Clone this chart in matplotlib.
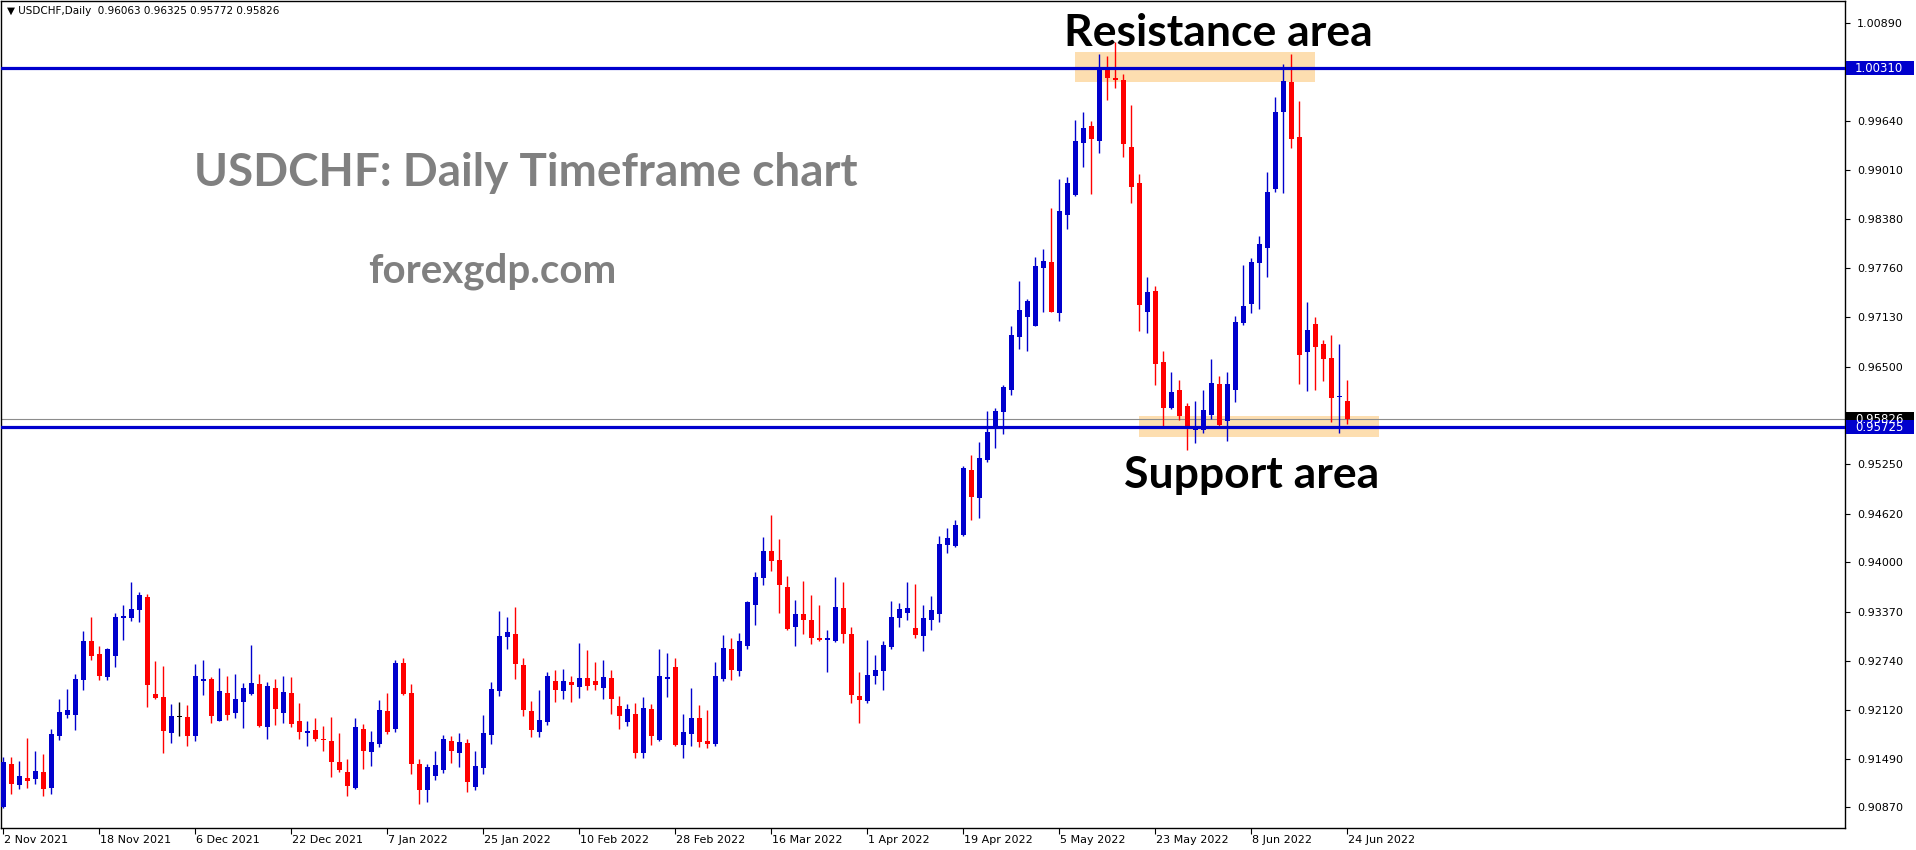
import numpy as np
import matplotlib
matplotlib.use("Agg")
import matplotlib.pyplot as plt
from matplotlib.patches import Rectangle
import matplotlib.transforms as mtransforms

# daily USDCHF candles, 2 Nov 2021 .. 24 Jun 2022
opens = [
    0.90880, 0.91425, 0.91161, 0.91242, 0.91237, 0.91323, 0.91123, 0.91787, 0.92050, 0.92055,
    0.92502, 0.92996, 0.92830, 0.92540, 0.92808, 0.93294, 0.93294, 0.93396, 0.93557, 0.92319,
    0.92280, 0.91825, 0.92025, 0.92025, 0.91787, 0.92489, 0.92510, 0.91978, 0.92332, 0.92080,
    0.92221, 0.92323, 0.92446, 0.91902, 0.92395, 0.92080, 0.92332, 0.91974, 0.91825, 0.91859,
    0.91744, 0.91718, 0.91450, 0.91327, 0.91123, 0.91872, 0.91582, 0.91684, 0.92102, 0.91876,
    0.92715, 0.92332, 0.91425, 0.91097, 0.91276, 0.91352, 0.91718, 0.91570, 0.91693, 0.91135,
    0.91378, 0.91800, 0.92361, 0.93051, 0.93085, 0.92689, 0.92102, 0.91838, 0.91965, 0.92485,
    0.92361, 0.92472, 0.92412, 0.92523, 0.92485, 0.92400, 0.92523, 0.92166, 0.91966, 0.92064,
    0.91570, 0.92128, 0.91736, 0.92515, 0.92664, 0.91672, 0.91812, 0.92013, 0.91719, 0.91685,
    0.92510, 0.92894, 0.92613, 0.92936, 0.93456, 0.93800, 0.94145, 0.94030, 0.93686, 0.93175,
    0.93341, 0.93264, 0.93034, 0.93013, 0.93000, 0.93418, 0.93085, 0.92294, 0.92234, 0.92553,
    0.92617, 0.92924, 0.93294, 0.93358, 0.93162, 0.93064, 0.93268, 0.93345, 0.94226, 0.94214,
    0.94350, 0.95180, 0.94826, 0.95312, 0.95708, 0.95925, 0.96206, 0.96883, 0.97138, 0.97023,
    0.97764, 0.97836, 0.97189, 0.98441, 0.98692, 0.99360, 0.99573, 0.99386, 1.00301, 1.00173,
    1.00161, 0.99305, 0.98845, 0.97202, 0.97466, 0.96559, 0.95976, 0.96202, 0.96001, 0.95695,
    0.95695, 0.95887, 0.96278, 0.95810, 0.96206, 0.97062, 0.97304, 0.97828, 0.98019, 0.98773,
    0.99756, 1.00135, 0.99433, 0.96691, 0.97045, 0.96789, 0.96610, 0.96106, 0.96063,
]
highs = [
    0.91510, 0.91514, 0.91463, 0.91757, 0.91591, 0.91552, 0.91872, 0.92255, 0.92383, 0.92574,
    0.93123, 0.93302, 0.92932, 0.92906, 0.93353, 0.93455, 0.93749, 0.93621, 0.93596, 0.92740,
    0.92676, 0.92191, 0.92217, 0.92178, 0.92702, 0.92753, 0.92536, 0.92651, 0.92549, 0.92574,
    0.92459, 0.92945, 0.92574, 0.92472, 0.92510, 0.92549, 0.92536, 0.92204, 0.91974, 0.92012,
    0.91910, 0.92025, 0.91821, 0.91489, 0.92012, 0.91936, 0.91846, 0.92242, 0.92332, 0.92753,
    0.92779, 0.92446, 0.91489, 0.91425, 0.91591, 0.91795, 0.91782, 0.91821, 0.91744, 0.91591,
    0.92051, 0.92472, 0.93379, 0.93302, 0.93430, 0.92779, 0.92229, 0.92370, 0.92600, 0.92625,
    0.92638, 0.92549, 0.92970, 0.92881, 0.92727, 0.92753, 0.92626, 0.92294, 0.92191, 0.92204,
    0.92281, 0.92191, 0.92894, 0.92843, 0.92779, 0.92068, 0.92396, 0.92179, 0.92119, 0.92728,
    0.93073, 0.93034, 0.93098, 0.93507, 0.93877, 0.94324, 0.94605, 0.94298, 0.93826, 0.93520,
    0.93762, 0.93584, 0.93456, 0.93136, 0.93813, 0.93749, 0.93175, 0.92600, 0.93004, 0.92817,
    0.92996, 0.93507, 0.93481, 0.93749, 0.93724, 0.93456, 0.93571, 0.94337, 0.94439, 0.94541,
    0.95231, 0.95371, 0.95537, 0.95933, 0.95972, 0.96265, 0.97019, 0.97594, 0.97364, 0.97900,
    0.98002, 0.98526, 0.98896, 0.98922, 0.99650, 0.99752, 0.99637, 1.00493, 1.00467, 1.00646,
    1.00237, 0.99841, 0.98960, 0.97645, 0.97530, 0.96700, 0.96431, 0.96329, 0.96036, 0.96061,
    0.96202, 0.96598, 0.96380, 0.96431, 0.97147, 0.97798, 0.97887, 0.98168, 0.98986, 0.99943,
    1.00365, 1.00493, 0.99892, 0.97325, 0.97134, 0.96840, 0.96904, 0.96789, 0.96325,
]
lows = [
    0.90860, 0.91046, 0.91106, 0.91123, 0.91174, 0.91020, 0.91046, 0.91736, 0.92016, 0.91863,
    0.92374, 0.92757, 0.92502, 0.92502, 0.92668, 0.93013, 0.93251, 0.93238, 0.92157, 0.92259,
    0.91570, 0.91697, 0.91787, 0.91659, 0.91723, 0.92306, 0.91953, 0.91978, 0.91991, 0.92016,
    0.91889, 0.92310, 0.91902, 0.91748, 0.91927, 0.91953, 0.91902, 0.91748, 0.91659, 0.91723,
    0.91595, 0.91263, 0.91327, 0.91020, 0.91110, 0.91365, 0.91404, 0.91646, 0.91812, 0.91838,
    0.92310, 0.91301, 0.90918, 0.90944, 0.91225, 0.91314, 0.91442, 0.91391, 0.91071, 0.91097,
    0.91301, 0.91684, 0.92297, 0.92898, 0.92515, 0.92042, 0.91774, 0.91774, 0.91927, 0.92221,
    0.92259, 0.92221, 0.92272, 0.92374, 0.92374, 0.92260, 0.92068, 0.91876, 0.91915, 0.91506,
    0.91506, 0.91672, 0.91723, 0.92285, 0.91659, 0.91506, 0.91659, 0.91647, 0.91634, 0.91659,
    0.92485, 0.92498, 0.92549, 0.92894, 0.93200, 0.93711, 0.93890, 0.93353, 0.93136, 0.92932,
    0.93091, 0.92962, 0.93000, 0.92604, 0.92987, 0.92975, 0.92208, 0.91953, 0.92208, 0.92451,
    0.92374, 0.92898, 0.93179, 0.93268, 0.93038, 0.92873, 0.93141, 0.93243, 0.94124, 0.94201,
    0.94337, 0.94545, 0.94571, 0.95286, 0.95465, 0.95644, 0.96142, 0.96729, 0.96704, 0.97023,
    0.97202, 0.97202, 0.97087, 0.98262, 0.98679, 0.99054, 0.98709, 0.99232, 0.99909, 1.00063,
    0.99181, 0.98594, 0.96959, 0.96934, 0.96270, 0.95733, 0.95963, 0.95823, 0.95440, 0.95529,
    0.95657, 0.95836, 0.95733, 0.95554, 0.96053, 0.97036, 0.97189, 0.97240, 0.97649, 0.98734,
    0.98722, 0.99297, 0.96283, 0.96193, 0.96206, 0.96321, 0.95797, 0.95657, 0.95772,
]
closes = [
    0.91455, 0.91174, 0.91271, 0.91212, 0.91335, 0.91110, 0.91808, 0.92089, 0.92114, 0.92510,
    0.92996, 0.92808, 0.92553, 0.92893, 0.93302, 0.93315, 0.93404, 0.93583, 0.92438, 0.92272,
    0.91850, 0.92038, 0.92025, 0.91787, 0.92549, 0.92515, 0.92042, 0.92357, 0.92055, 0.92255,
    0.92395, 0.92459, 0.91914, 0.92421, 0.92131, 0.92344, 0.91940, 0.91838, 0.91846, 0.91748,
    0.91735, 0.91455, 0.91352, 0.91148, 0.91897, 0.91595, 0.91706, 0.92114, 0.91838, 0.92715,
    0.92323, 0.91429, 0.91097, 0.91386, 0.91412, 0.91744, 0.91595, 0.91706, 0.91199, 0.91399,
    0.91821, 0.92383, 0.93059, 0.93110, 0.92706, 0.92119, 0.91863, 0.91987, 0.92549, 0.92374,
    0.92485, 0.92438, 0.92523, 0.92425, 0.92438, 0.92536, 0.92260, 0.92042, 0.92128, 0.91570,
    0.92140, 0.91787, 0.92549, 0.92536, 0.91672, 0.91838, 0.92013, 0.91710, 0.91685, 0.92549,
    0.92907, 0.92626, 0.92996, 0.93494, 0.93813, 0.94145, 0.94018, 0.93711, 0.93149, 0.93341,
    0.93268, 0.93039, 0.93013, 0.93034, 0.93430, 0.93089, 0.92311, 0.92247, 0.92562, 0.92626,
    0.92945, 0.93302, 0.93405, 0.93418, 0.93077, 0.93290, 0.93392, 0.94235, 0.94311, 0.94478,
    0.95205, 0.94839, 0.95333, 0.95665, 0.95933, 0.96240, 0.96904, 0.97223, 0.97338, 0.97785,
    0.97849, 0.97202, 0.98487, 0.98845, 0.99381, 0.99548, 0.99411, 1.00301, 1.00190, 1.00165,
    0.99348, 0.98798, 0.97291, 0.97453, 0.96538, 0.95976, 0.96176, 0.95874, 0.95733, 0.95721,
    0.95946, 0.96291, 0.95759, 0.96278, 0.97070, 0.97275, 0.97836, 0.98066, 0.98730, 0.99752,
    1.00148, 0.99411, 0.96653, 0.96968, 0.96755, 0.96602, 0.96104, 0.96108, 0.95826,
]

date_labels = ["2 Nov 2021", "18 Nov 2021", "6 Dec 2021", "22 Dec 2021", "7 Jan 2022",
               "25 Jan 2022", "10 Feb 2022", "28 Feb 2022", "16 Mar 2022", "1 Apr 2022",
               "19 Apr 2022", "5 May 2022", "23 May 2022", "8 Jun 2022", "24 Jun 2022"]
date_step = 12

price_ticks = [1.00890, 0.99640, 0.99010, 0.98380, 0.97760, 0.97130, 0.96500,
               0.95250, 0.94620, 0.94000, 0.93370, 0.92740, 0.92120, 0.91490, 0.90870]

resistance = 1.00310
support = 0.95725
last_price = 0.95826
resistance_zone = (133.9, 163.9, 1.00139, 1.00514)   # x0, x1 (bars), y0, y1
support_zone = (141.9, 171.9, 0.95598, 0.95870)

BLUE = "#0000CD"
RED = "#FF0000"

o = np.array(opens)
h = np.array(highs)
l = np.array(lows)
c = np.array(closes)
x = np.arange(len(o))

fig = plt.figure(figsize=(19.16, 8.5), dpi=100)
ax = fig.add_axes([1 / 1916, 22 / 850, 1844 / 1916, 827 / 850])
ax.set_xlim(-0.3125, 230.19)
ax.set_ylim(0.906076, 1.011695)

# zones behind everything
for x0, x1, y0, y1 in (resistance_zone, support_zone):
    ax.add_patch(Rectangle((x0, y0), x1 - x0, y1 - y0, facecolor="#FDDEB0",
                           edgecolor="none", zorder=1))

colors = np.where(c > o, BLUE, np.where(c < o, RED, "black"))
ax.vlines(x, l, h, colors=colors, linewidth=1.0, zorder=3)
body = np.maximum(np.abs(c - o), 0.00015)
ax.bar(x, body, bottom=np.minimum(o, c), width=0.625, color=colors,
       linewidth=0, zorder=3)

ax.axhline(last_price, color="#8C8C8C", linewidth=0.8, zorder=2)
ax.axhline(resistance, color=BLUE, linewidth=2.3, zorder=4)
ax.axhline(support, color=BLUE, linewidth=2.3, zorder=4)

# axes styling like the terminal
for s in ax.spines.values():
    s.set_color("black")
    s.set_linewidth(1.0)
ax.yaxis.tick_right()
ax.set_yticks(price_ticks)
ax.set_yticklabels([f"{v:.5f}" for v in price_ticks])
ax.tick_params(axis="y", direction="out", length=3.5, width=0.8, pad=5,
               labelsize=8, labelcolor="black")
xt = list(range(0, len(date_labels) * date_step, date_step))
ax.set_xticks(xt)
ax.set_xticklabels(date_labels, ha="left")
ax.tick_params(axis="x", direction="out", length=4, width=0.8, pad=1,
               labelsize=8)
for lab in ax.get_xticklabels():
    lab.set_transform(lab.get_transform() + mtransforms.Affine2D().translate(1, 0))

# price boxes on the right axis
fig.canvas.draw()
for price, fc in ((last_price, "black"), (resistance, BLUE), (support, BLUE)):
    yd = ax.transData.transform((0, price))[1]
    fig.patches.append(Rectangle((1846, yd - 7), 68, 14, transform=None,
                                 facecolor=fc, edgecolor="none", zorder=5))
    fig.text(1855 / 1916, yd / 850, f"{price:.5f}", color="white", fontsize=8.5,
             va="center", ha="left", zorder=6)

ax.text(0.0035, 0.988, "\u25bc USDCHF,Daily  0.96063 0.96325 0.95772 0.95826",
        transform=ax.transAxes, fontsize=7.5, va="center", ha="left")

ax.text(151.9, 1.00760, "Resistance area", fontsize=32, fontweight="bold",
        family="Lato", ha="center", va="center", zorder=6)
ax.text(156.0, 0.95110, "Support area", fontsize=32, fontweight="bold",
        family="Lato", ha="center", va="center", zorder=6)
ax.text(193 / 1844, 1 - 172 / 827, "USDCHF: Daily Timeframe chart",
        transform=ax.transAxes, fontsize=33, fontweight="bold", family="Lato",
        color="#808080", ha="left", va="center")
ax.text(367 / 1844, 1 - 270 / 827, "forexgdp.com", transform=ax.transAxes,
        fontsize=29, fontweight="bold", family="Lato", color="#808080",
        ha="left", va="center")

fig.savefig("out.png", dpi=100)
